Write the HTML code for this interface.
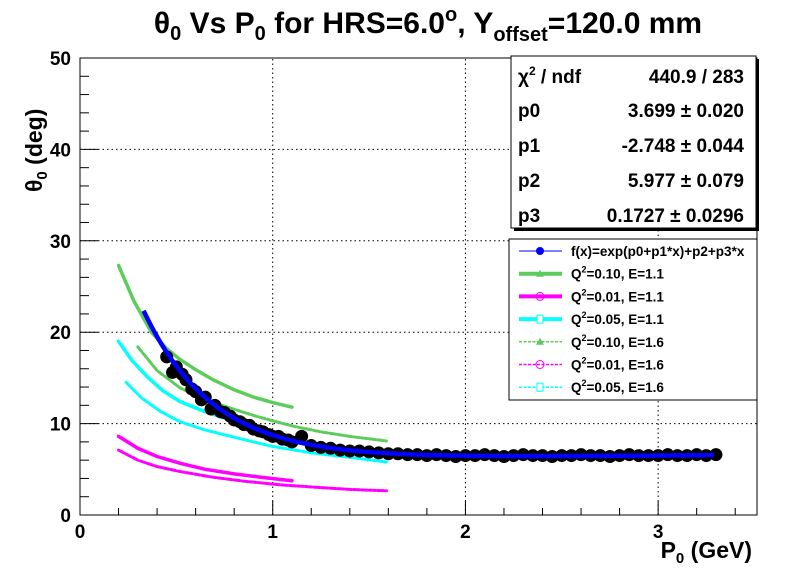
<!DOCTYPE html>
<html><head><meta charset="utf-8"><style>
body{margin:0;background:#fff;}
svg text{font-family:"Liberation Sans",Arial,sans-serif;font-weight:bold;fill:#000;}
</style></head><body>
<svg id="c" width="796" height="572" xmlns="http://www.w3.org/2000/svg">
<rect width="796" height="572" fill="#fff"/>
<g id="grid"></g>
<g id="series"></g>
<rect x="80" y="58" width="677" height="457" fill="none" stroke="#000" stroke-width="1"/>
<g id="axes"></g>
<text x="428" y="33" text-anchor="middle" font-size="30">θ<tspan font-size="20" dy="7">0</tspan><tspan dy="-7"> Vs P</tspan><tspan font-size="20" dy="7">0</tspan><tspan dy="-7"> for HRS=6.0</tspan><tspan font-size="20" dy="-12">o</tspan><tspan dy="12">, Y</tspan><tspan font-size="20" dy="8">offset</tspan><tspan dy="-8">=120.0 mm</tspan></text>
<text transform="translate(42,192) rotate(-90)" font-size="23">θ<tspan font-size="15" dy="5">0</tspan><tspan dy="-5"> (deg)</tspan></text>
<text x="752" y="558" text-anchor="end" font-size="23">P<tspan font-size="15" dy="5">0</tspan><tspan dy="-5"> (GeV)</tspan></text>
<g>
<rect x="514" y="59" width="245" height="172" fill="#000"/>
<rect x="511" y="56" width="245" height="172" fill="#fff" stroke="#000"/>
<text x="518" y="83" font-size="19">χ<tspan font-size="12" dy="-8">2</tspan><tspan dy="8"> / ndf</tspan></text><text x="744" y="83" font-size="19" text-anchor="end">440.9 / 283</text>
<text x="518" y="117" font-size="19">p0</text><text x="744" y="117" font-size="19" text-anchor="end">3.699 ± 0.020</text>
<text x="518" y="152" font-size="19">p1</text><text x="744" y="152" font-size="19" text-anchor="end">-2.748 ± 0.044</text>
<text x="518" y="187" font-size="19">p2</text><text x="744" y="187" font-size="19" text-anchor="end">5.977 ± 0.079</text>
<text x="518" y="222" font-size="19">p3</text><text x="744" y="222" font-size="19" text-anchor="end">0.1727 ± 0.0296</text>
</g>
<g id="legend">
<rect x="509" y="239" width="248" height="161" fill="#fff" stroke="#000"/>
</g>
</svg>
<script>
const xTicks=[0,1,2,3];
const yTicks=[0,10,20,30,40,50];
const fitParams=[3.699,-2.748,5.977,0.1727];
const fitRange=[0.33,3.3];
const dataP=[0.45,0.48,0.5,0.53,0.55,0.58,0.6,0.63,0.65,0.68,0.7,0.73,0.75,0.78,0.8,0.83,0.85,0.88,0.9,0.93,0.95,0.98,1.0,1.03,1.05,1.08,1.1,1.15,1.2,1.25,1.3,1.35,1.4,1.45,1.5,1.55,1.6,1.65,1.7,1.75,1.8,1.85,1.9,1.95,2.0,2.05,2.1,2.15,2.2,2.25,2.3,2.35,2.4,2.45,2.5,2.55,2.6,2.65,2.7,2.75,2.8,2.85,2.9,2.95,3.0,3.05,3.1,3.15,3.2,3.25,3.3];
const dataTheta=[17.3,15.6,16.2,15.4,14.8,13.8,13.5,12.6,12.9,11.6,12.0,11.3,11.2,10.8,10.4,10.2,9.9,9.8,9.4,9.2,9.1,8.8,8.6,8.6,8.3,8.2,8.0,8.6,7.6,7.4,7.3,7.1,7.0,7.0,6.9,6.8,6.7,6.7,6.6,6.6,6.5,6.6,6.5,6.4,6.5,6.5,6.6,6.5,6.4,6.5,6.6,6.5,6.5,6.4,6.5,6.5,6.6,6.5,6.5,6.4,6.5,6.6,6.5,6.5,6.5,6.6,6.5,6.5,6.6,6.5,6.6];
const g11P=[0.2,0.28,0.37,0.45,0.52,0.6,0.69,0.8,0.9,1.0,1.1];
const g11T=[27.3,23.4,20.0,18.2,17.0,15.9,14.8,13.7,12.9,12.3,11.8];
const g16P=[0.3,0.4,0.52,0.65,0.78,0.9,1.0,1.11,1.25,1.4,1.59];
const g16T=[18.4,15.8,13.9,12.6,11.7,10.9,10.3,9.7,9.1,8.6,8.1];
const c11P=[0.2,0.27,0.35,0.43,0.52,0.65,0.78,0.9,1.0,1.1];
const c11T=[19.0,16.9,15.1,13.6,12.4,11.3,10.4,9.4,8.8,8.3];
const c16P=[0.24,0.32,0.42,0.52,0.65,0.86,1.0,1.2,1.4,1.59];
const c16T=[14.5,12.8,11.3,10.2,9.3,8.2,7.5,6.8,6.3,5.8];
const m11P=[0.2,0.3,0.4,0.52,0.65,0.8,0.95,1.1];
const m11T=[8.6,7.3,6.4,5.65,5.0,4.5,4.1,3.75];
const m16P=[0.2,0.3,0.4,0.52,0.7,0.85,1.04,1.25,1.4,1.59];
const m16T=[7.1,6.0,5.3,4.75,4.1,3.7,3.3,3.0,2.8,2.65];
const X0=80,X1=757,Y0=515,Y1=58,XMAX=3.513,YMAX=50;
function sx(v){return X0+v/XMAX*(X1-X0);}
function sy(v){return Y0-v/YMAX*(Y0-Y1);}
const NS='http://www.w3.org/2000/svg';
function mk(tag,parent,attrs){const e=document.createElementNS(NS,tag);for(const k in attrs)e.setAttribute(k,attrs[k]);parent.appendChild(e);return e;}
const grid=document.getElementById('grid'),axes=document.getElementById('axes'),ser=document.getElementById('series'),leg=document.getElementById('legend');
xTicks.forEach(t=>{
 if(t>0){const l=mk('line',grid,{x1:sx(t),x2:sx(t),y1:Y0,y2:Y1,stroke:'#000','stroke-dasharray':'1.5,3'});
 
 }
 const tl=mk('text',axes,{x:sx(t),y:538,'text-anchor':'middle','font-size':'19'});tl.textContent=t;
 
 
});
for(let v=0;v<=XMAX+1e-6;v+=0.2){const big=Math.abs(v-Math.round(v))<1e-6;mk('line',axes,{x1:sx(v),x2:sx(v),y1:Y0,y2:Y0-(big?14:7),stroke:'#000'});}
yTicks.forEach(t=>{
 if(t>0){const l=mk('line',grid,{x1:X0,x2:X1,y1:sy(t),y2:sy(t),stroke:'#000','stroke-dasharray':'1.5,3'});
 
 }
 const tl=mk('text',axes,{x:71,y:sy(t)+7,'text-anchor':'end','font-size':'19'});tl.textContent=t;
 
 
});
for(let v=0;v<=YMAX;v+=2){const big=v%10===0;mk('line',axes,{x1:X0,x2:X0+(big?18:9),y1:sy(v),y2:sy(v),stroke:'#000'});}
function curve(P,T,color,w,dash,name){
 const p=mk('polyline',ser,{points:P.map((x,i)=>sx(x)+','+sy(T[i])).join(' '),fill:'none',stroke:color,'stroke-width':w,'stroke-linecap':'round'});
 if(dash)p.setAttribute('stroke-dasharray',dash);
 
 
}
curve(g11P,g11T,'#5ccc5c',3.5,null,'curve-q2-0.10-e1.1');
curve(g16P,g16T,'#5ccc5c',3,'6,2','curve-q2-0.10-e1.6');
curve(c11P,c11T,'#00ffff',3.5,null,'curve-q2-0.05-e1.1');
curve(c16P,c16T,'#00ffff',3,'6,2','curve-q2-0.05-e1.6');
curve(m11P,m11T,'#ff00ff',3.5,null,'curve-q2-0.01-e1.1');
curve(m16P,m16T,'#ff00ff',3,'6,2','curve-q2-0.01-e1.6');
const dg=mk('g',ser,{});


dataP.forEach((x,i)=>{const c=mk('circle',dg,{cx:sx(x),cy:sy(dataTheta[i]),r:6.5,fill:'#000'});
 
 });
const fp=[];for(let x=fitRange[0];x<=fitRange[1]+1e-6;x+=0.02){fp.push(sx(x)+','+sy(Math.exp(fitParams[0]+fitParams[1]*x)+fitParams[2]+fitParams[3]*x));}
const fl=mk('polyline',ser,{points:fp.join(' '),fill:'none',stroke:'#0000ff','stroke-width':4.5});


const legItems=[['f(x)=exp(p0+p1*x)+p2+p3*x','#0000ff',1,null,'dot'],['Q²=0.10, E=1.1','#5ccc5c',4,null,'tri'],['Q²=0.01, E=1.1','#ff00ff',4,null,'circ'],['Q²=0.05, E=1.1','#00ffff',4,null,'cross'],['Q²=0.10, E=1.6','#5ccc5c',1.5,'3,1.5','tri'],['Q²=0.01, E=1.6','#ff00ff',1.5,'3,1.5','circ'],['Q²=0.05, E=1.6','#00ffff',1.5,'3,1.5','cross']];
legItems.forEach((it,i)=>{
 const y=251+i*22.7;
 const g=mk('g',leg,{});
 
 
 const l=mk('line',g,{x1:519,x2:562,y1:y,y2:y,stroke:it[1],'stroke-width':it[2]});if(it[3])l.setAttribute('stroke-dasharray',it[3]);
 if(it[4]==='dot')mk('circle',g,{cx:540,cy:y,r:4,fill:it[1]});
 if(it[4]==='tri')mk('polygon',g,{points:`536,${y+3} 544,${y+3} 540,${y-4}`,fill:it[1]});
 if(it[4]==='circ')mk('circle',g,{cx:540,cy:y,r:4,fill:'none',stroke:it[1]});
 if(it[4]==='cross')mk('rect',g,{x:537,y:y-4,width:6,height:8,fill:'#fff',stroke:it[1]});
 const t=mk('text',g,{x:571,y:y+5,'font-size':'13.5'});
 if(i===0)t.textContent=it[0];else{const parts=it[0].split('²');t.innerHTML='Q<tspan font-size="9" dy="-6">2</tspan><tspan dy="6">'+parts[1]+'</tspan>';}
});
</script>
</body></html>
